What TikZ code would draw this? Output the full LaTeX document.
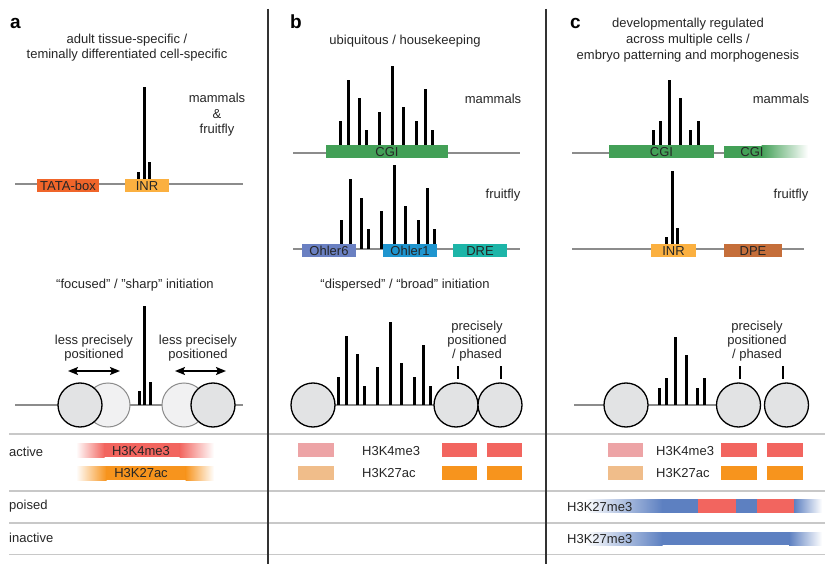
\documentclass[tikz,border=0pt]{standalone}
\usepackage{fontspec}
\setmainfont{Liberation Sans}
\usetikzlibrary{arrows.meta}
\definecolor{txtc}{HTML}{262626}
\definecolor{dnaline}{HTML}{8C8C8C}
\definecolor{tata}{HTML}{F0652A}
\definecolor{inr}{HTML}{FBB040}
\definecolor{cgi}{HTML}{43A057}
\definecolor{ohlersix}{HTML}{6A80C2}
\definecolor{ohlerone}{HTML}{1F95CF}
\definecolor{dre}{HTML}{1DB5A8}
\definecolor{dpe}{HTML}{C56E3A}
\definecolor{kfour}{HTML}{F2655F}
\definecolor{kfourlt}{HTML}{EDA4A6}
\definecolor{kac}{HTML}{F7941D}
\definecolor{kaclt}{HTML}{F0BD8A}
\definecolor{kme}{HTML}{5D80C1}
\definecolor{nucdark}{HTML}{E2E3E4}
\definecolor{nuclight}{HTML}{F1F1F2}
\definecolor{sepv}{HTML}{333333}
\definecolor{seph}{HTML}{C8C8C8}
\tikzset{
  lbl/.style={font=\fontsize{13}{15.5}\selectfont, text=txtc, inner sep=0pt, text height=9.5pt, text depth=2.5pt},
  plet/.style={font=\fontsize{19}{21}\selectfont\bfseries, text=black, inner sep=0pt, anchor=base west},
  gbox/.style={lbl, text height=11pt, text depth=1pt, minimum height=13pt},
  dna/.style={draw=dnaline, line width=1.3pt},
  pkbar/.style={line width=3pt, draw=black},
  nucd/.style={circle, draw=black, line width=1.3pt, fill=nucdark, minimum size=44pt, inner sep=0pt},
  nucl/.style={circle, draw=black!45, line width=1pt, fill=nuclight, minimum size=44pt, inner sep=0pt},
  darrow/.style={{Stealth[length=10pt,width=8pt,inset=2pt]}-{Stealth[length=10pt,width=8pt,inset=2pt]}, line width=1.5pt},
  phtick/.style={line width=1.3pt, draw=black},
  hsep/.style={draw=seph, line width=1.6pt},
  vsep/.style={draw=sepv, line width=2pt},
}
\begin{document}
\begin{tikzpicture}[x=1pt,y=-1pt]
\useasboundingbox (0,0) rectangle (825,564);
\fill[white] (0,0) rectangle (825,564);

% ---------------- panel letters and titles
\node[plet] (la) at (10,29) {a};
\node[plet] (lb) at (290,29) {b};
\node[plet] (lc) at (570,29) {c};
\node[lbl] (ta1) at (127,40) {adult tissue-specific /};
\node[lbl] (ta2) at (127,55) {teminally differentiated cell-specific};
\node[lbl] (tb1) at (405,41) {ubiquitous / housekeeping};
\node[lbl] (tc1) at (688,24) {developmentally regulated};
\node[lbl] (tc2) at (688,40.5) {across multiple cells /};
\node[lbl] (tc3) at (688,56.5) {embryo patterning and morphogenesis};

% ---------------- panel a top
\draw[dna] (15,184) -- (243,184);
\foreach \x/\t in {138/172,144/87,149/162} \draw[pkbar] (\x,184) -- (\x,\t);
\node[gbox, fill=tata, minimum width=62pt] (tata) at (68,185.5) {TATA-box};
\node[gbox, fill=inr, minimum width=44pt] (inra) at (147,185.5) {INR};
\node[lbl] (ma1) at (217,99) {mammals};
\node[lbl] (ma2) at (217,115) {\&};
\node[lbl] (ma3) at (217,130) {fruitfly};

% ---------------- panel a bottom
\node[lbl] (fa) at (135,285) {“focused” / "sharp" initiation};
\node[lbl] (lpa1) at (94,341) {less precisely};
\node[lbl] (lpa2) at (94,355) {positioned};
\node[lbl] (lpb1) at (198,341) {less precisely};
\node[lbl] (lpb2) at (198,355) {positioned};
\coordinate (arl1) at (68,371);
\coordinate (arl2) at (120,371);
\coordinate (arr1) at (175,371);
\coordinate (arr2) at (226,371);
\draw[darrow] (arl1) -- (arl2);
\draw[darrow] (arr1) -- (arr2);
\draw[dna] (15,405) -- (243,405);
\node[nucl] (nal2) at (108,405) {};
\node[nucd] (nal1) at (80,405) {};
\node[nucl] (nar2) at (184,405) {};
\node[nucd] (nar1) at (213,405) {};
\foreach \x/\t in {139/391,144/306,150/382} \draw[pkbar] (\x,405) -- (\x,\t);

% ---------------- panel b top
\draw[dna] (293,153) -- (520,153);
\foreach \x/\t in {340/121,348/80,359/98,366/130,379/112,392/66,403/107,416/121,425/89,432/130}
  \draw[pkbar] (\x,153) -- (\x,\t);
\node[gbox, fill=cgi, minimum width=122pt] (cgib) at (387,152) {CGI};
\node[lbl] (mb) at (493,100) {mammals};
\draw[dna] (293,249) -- (520,249);
\foreach \x/\t in {341/220,350/179,361/198,368/229,381/211,394/165,405/206,418/220,427/188,434/229}
  \draw[pkbar] (\x,249) -- (\x,\t);
\node[gbox, fill=ohlersix, minimum width=54pt] (ohsix) at (329,250.5) {Ohler6};
\node[gbox, fill=ohlerone, minimum width=54pt] (ohone) at (410,250.5) {Ohler1};
\node[gbox, fill=dre, minimum width=54pt] (dre) at (480,250.5) {DRE};
\node[lbl] (fb) at (503,195) {fruitfly};

% ---------------- panel b bottom
\node[lbl] (db) at (405,285) {“dispersed” / “broad” initiation};
\draw[dna] (313,405) -- (456,405);
\node[nucd] (nbl) at (313,405) {};
\node[nucd] (nbr1) at (456,405) {};
\node[nucd] (nbr2) at (500,405) {};
\foreach \x/\t in {338/377,346/336,357/354,364/386,377/367,390/322,401/363,414/377,423/345,430/386}
  \draw[pkbar] (\x,405) -- (\x,\t);
\node[lbl] (pb1) at (477,327) {precisely};
\node[lbl] (pb2) at (477,341) {positioned};
\node[lbl] (pb3) at (477,355) {/ phased};
\coordinate (tb1a) at (458,366); \coordinate (tb1b) at (458,379);
\coordinate (tb2a) at (501,366); \coordinate (tb2b) at (501,379);
\draw[phtick] (tb1a) -- (tb1b);
\draw[phtick] (tb2a) -- (tb2b);

% ---------------- panel c top
\draw[dna] (572,153) -- (724,153);
\foreach \x/\t in {653/130,660/121,669/80,680/98,690/130,698/121}
  \draw[pkbar] (\x,153) -- (\x,\t);
\node[gbox, fill=cgi, minimum width=105pt] (cgic) at (661.5,152) {CGI};
\fill[cgi] (724,146) rectangle (762,158);
\shade[left color=cgi, right color=white] (761.5,146) rectangle (808,158);
\node[gbox] (cgid) at (752,152) {CGI};
\node[lbl] (mc) at (781,100) {mammals};
\draw[dna] (572,249) -- (804,249);
\foreach \x/\t in {666/237,672/171,677/228} \draw[pkbar] (\x,249) -- (\x,\t);
\node[gbox, fill=inr, minimum width=45pt] (inrc) at (673.5,250.5) {INR};
\node[gbox, fill=dpe, minimum width=58pt] (dpe) at (753,250.5) {DPE};
\node[lbl] (fc) at (791,195) {fruitfly};

% ---------------- panel c bottom
\draw[dna] (574,405) -- (738,405);
\node[nucd] (ncl) at (626,405) {};
\node[nucd] (ncr1) at (738.5,405) {};
\node[nucd] (ncr2) at (786.5,405) {};
\foreach \x/\t in {659/388,666/378,675/337,686/355,697/388,704/378}
  \draw[pkbar] (\x,405) -- (\x,\t);
\node[lbl] (pc1) at (757,327) {precisely};
\node[lbl] (pc2) at (757,341) {positioned};
\node[lbl] (pc3) at (757,355) {/ phased};
\coordinate (tc1a) at (740,366); \coordinate (tc1b) at (740,379);
\coordinate (tc2a) at (783,366); \coordinate (tc2b) at (783,379);
\draw[phtick] (tc1a) -- (tc1b);
\draw[phtick] (tc2a) -- (tc2b);

% ---------------- histone rows
\draw[hsep] (9,434) -- (825,434);
\draw[hsep] (9,491) -- (825,491);
\draw[hsep] (9,523) -- (825,523);
\draw[hsep] (9,554.5) -- (825,554.5);
\node[lbl] (act) [anchor=west] at (9,453) {active};
\node[lbl] (poi) [anchor=west] at (9,505.5) {poised};
\node[lbl] (ina) [anchor=west] at (9,539) {inactive};

% panel a marks
\shade[left color=white, right color=kfour] (76,443) rectangle (104.5,457);
\fill[kfour] (104,443) rectangle (180,457);
\shade[left color=kfour, right color=white] (179.5,443) rectangle (214,457);
\node[lbl] (ka4) at (141,451.5) {H3K4me3};
\shade[left color=white, right color=kac] (76,466) rectangle (106.5,480);
\fill[kac] (106,466) rectangle (186,480);
\shade[left color=kac, right color=white] (185.5,466) rectangle (214,480);
\node[lbl] (kaac) at (141,474) {H3K27ac};

% panel b marks
\fill[kfourlt] (298,443) rectangle (334,457);
\fill[kaclt] (298,466) rectangle (334,480);
\node[lbl, anchor=west] (kb4) at (362,451.5) {H3K4me3};
\node[lbl, anchor=west] (kbac) at (362,474) {H3K27ac};
\fill[kfour] (442,443) rectangle (477,457);
\fill[kfour] (487,443) rectangle (522,457);
\fill[kac] (442,466) rectangle (477,480);
\fill[kac] (487,466) rectangle (522,480);

% panel c marks
\fill[kfourlt] (608,443) rectangle (643,457);
\fill[kaclt] (608,466) rectangle (643,480);
\node[lbl, anchor=west] (kc4) at (656,451.5) {H3K4me3};
\node[lbl, anchor=west] (kcac) at (656,474) {H3K27ac};
\fill[kfour] (721,443) rectangle (757,457);
\fill[kfour] (767,443) rectangle (803,457);
\fill[kac] (721,466) rectangle (757,480);
\fill[kac] (767,466) rectangle (803,480);

% poised
\shade[left color=white, right color=kme] (585,499) rectangle (662.5,512.5);
\fill[kme] (662,499) rectangle (698,512.5);
\fill[kfour] (698,499) rectangle (736,512.5);
\fill[kme] (736,499) rectangle (757,512.5);
\fill[kfour] (757,499) rectangle (794,512.5);
\shade[left color=kme, right color=white] (794,499) rectangle (822,512.5);
\node[lbl, anchor=west] (kcp) at (567,507.5) {H3K27me3};
% inactive
\shade[left color=white, right color=kme] (585,532) rectangle (662.5,545);
\fill[kme] (662,532) rectangle (789.5,545);
\shade[left color=kme, right color=white] (789,532) rectangle (822,545);
\node[lbl, anchor=west] (kci) at (567,539.5) {H3K27me3};

% ---------------- vertical separators
\draw[vsep] (268,9) -- (268,564);
\draw[vsep] (546,9) -- (546,564);
\end{tikzpicture}
\end{document}
